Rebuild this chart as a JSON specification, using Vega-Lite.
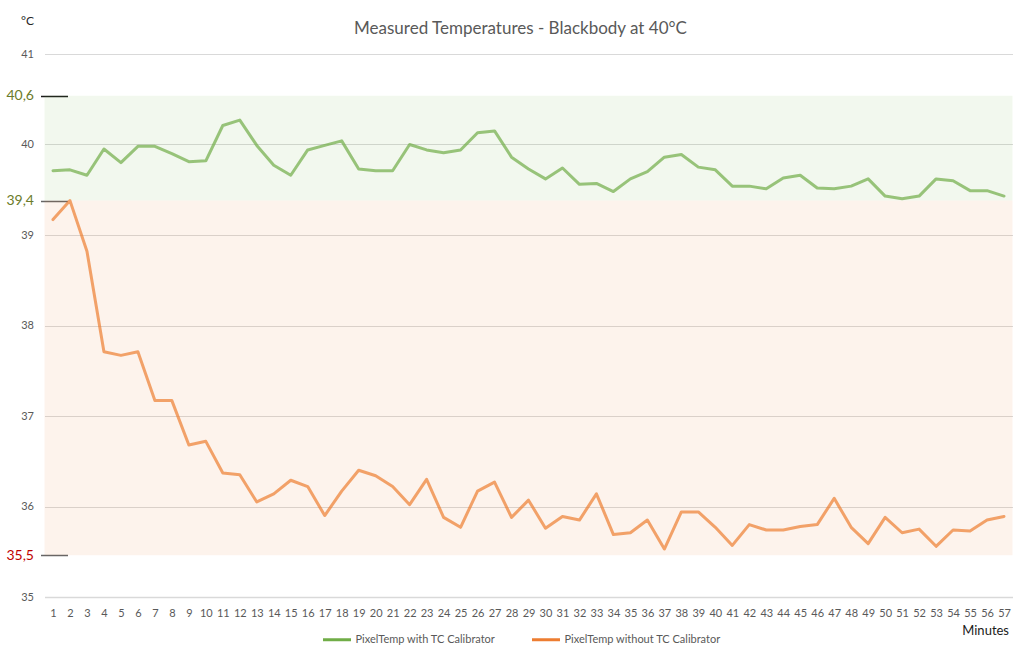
{
  "$schema": "https://vega.github.io/schema/vega-lite/v6.json",
  "width": 968,
  "height": 543,
  "autosize": {"type": "none"},
  "padding": {"left": 44.5, "top": 54, "right": 17.5, "bottom": 64},
  "background": "white",
  "title": {
    "text": "Measured Temperatures - Blackbody at 40°C",
    "font": "Lato",
    "fontSize": 17,
    "fontWeight": "normal",
    "color": "#595959",
    "anchor": "middle",
    "dx": -8,
    "dy": 28
  },
  "config": {
    "font": "Lato",
    "view": {"stroke": null}
  },
  "resolve": {"scale": {"color": "independent"}},
  "datasets": {
    "zones": [
      {"lo": 39.38, "hi": 40.54, "zone": "calibrated"},
      {"lo": 35.46, "hi": 39.38, "zone": "uncalibrated"}
    ],
    "temps": [
      {"minute": 1, "series": "PixelTemp with TC Calibrator", "temp": 39.71},
      {"minute": 2, "series": "PixelTemp with TC Calibrator", "temp": 39.72},
      {"minute": 3, "series": "PixelTemp with TC Calibrator", "temp": 39.66},
      {"minute": 4, "series": "PixelTemp with TC Calibrator", "temp": 39.95},
      {"minute": 5, "series": "PixelTemp with TC Calibrator", "temp": 39.8},
      {"minute": 6, "series": "PixelTemp with TC Calibrator", "temp": 39.98},
      {"minute": 7, "series": "PixelTemp with TC Calibrator", "temp": 39.98},
      {"minute": 8, "series": "PixelTemp with TC Calibrator", "temp": 39.9},
      {"minute": 9, "series": "PixelTemp with TC Calibrator", "temp": 39.81},
      {"minute": 10, "series": "PixelTemp with TC Calibrator", "temp": 39.82},
      {"minute": 11, "series": "PixelTemp with TC Calibrator", "temp": 40.21},
      {"minute": 12, "series": "PixelTemp with TC Calibrator", "temp": 40.27},
      {"minute": 13, "series": "PixelTemp with TC Calibrator", "temp": 39.99},
      {"minute": 14, "series": "PixelTemp with TC Calibrator", "temp": 39.77},
      {"minute": 15, "series": "PixelTemp with TC Calibrator", "temp": 39.66},
      {"minute": 16, "series": "PixelTemp with TC Calibrator", "temp": 39.94},
      {"minute": 17, "series": "PixelTemp with TC Calibrator", "temp": 39.99},
      {"minute": 18, "series": "PixelTemp with TC Calibrator", "temp": 40.04},
      {"minute": 19, "series": "PixelTemp with TC Calibrator", "temp": 39.73},
      {"minute": 20, "series": "PixelTemp with TC Calibrator", "temp": 39.71},
      {"minute": 21, "series": "PixelTemp with TC Calibrator", "temp": 39.71},
      {"minute": 22, "series": "PixelTemp with TC Calibrator", "temp": 40.0},
      {"minute": 23, "series": "PixelTemp with TC Calibrator", "temp": 39.94},
      {"minute": 24, "series": "PixelTemp with TC Calibrator", "temp": 39.91},
      {"minute": 25, "series": "PixelTemp with TC Calibrator", "temp": 39.94},
      {"minute": 26, "series": "PixelTemp with TC Calibrator", "temp": 40.13},
      {"minute": 27, "series": "PixelTemp with TC Calibrator", "temp": 40.15},
      {"minute": 28, "series": "PixelTemp with TC Calibrator", "temp": 39.86},
      {"minute": 29, "series": "PixelTemp with TC Calibrator", "temp": 39.73},
      {"minute": 30, "series": "PixelTemp with TC Calibrator", "temp": 39.62},
      {"minute": 31, "series": "PixelTemp with TC Calibrator", "temp": 39.74},
      {"minute": 32, "series": "PixelTemp with TC Calibrator", "temp": 39.56},
      {"minute": 33, "series": "PixelTemp with TC Calibrator", "temp": 39.57},
      {"minute": 34, "series": "PixelTemp with TC Calibrator", "temp": 39.48},
      {"minute": 35, "series": "PixelTemp with TC Calibrator", "temp": 39.62},
      {"minute": 36, "series": "PixelTemp with TC Calibrator", "temp": 39.7},
      {"minute": 37, "series": "PixelTemp with TC Calibrator", "temp": 39.86},
      {"minute": 38, "series": "PixelTemp with TC Calibrator", "temp": 39.89},
      {"minute": 39, "series": "PixelTemp with TC Calibrator", "temp": 39.75},
      {"minute": 40, "series": "PixelTemp with TC Calibrator", "temp": 39.72},
      {"minute": 41, "series": "PixelTemp with TC Calibrator", "temp": 39.54},
      {"minute": 42, "series": "PixelTemp with TC Calibrator", "temp": 39.54},
      {"minute": 43, "series": "PixelTemp with TC Calibrator", "temp": 39.51},
      {"minute": 44, "series": "PixelTemp with TC Calibrator", "temp": 39.63},
      {"minute": 45, "series": "PixelTemp with TC Calibrator", "temp": 39.66},
      {"minute": 46, "series": "PixelTemp with TC Calibrator", "temp": 39.52},
      {"minute": 47, "series": "PixelTemp with TC Calibrator", "temp": 39.51},
      {"minute": 48, "series": "PixelTemp with TC Calibrator", "temp": 39.54},
      {"minute": 49, "series": "PixelTemp with TC Calibrator", "temp": 39.62},
      {"minute": 50, "series": "PixelTemp with TC Calibrator", "temp": 39.43},
      {"minute": 51, "series": "PixelTemp with TC Calibrator", "temp": 39.4},
      {"minute": 52, "series": "PixelTemp with TC Calibrator", "temp": 39.43},
      {"minute": 53, "series": "PixelTemp with TC Calibrator", "temp": 39.62},
      {"minute": 54, "series": "PixelTemp with TC Calibrator", "temp": 39.6},
      {"minute": 55, "series": "PixelTemp with TC Calibrator", "temp": 39.49},
      {"minute": 56, "series": "PixelTemp with TC Calibrator", "temp": 39.49},
      {"minute": 57, "series": "PixelTemp with TC Calibrator", "temp": 39.43},
      {"minute": 1, "series": "PixelTemp without TC Calibrator", "temp": 39.17},
      {"minute": 2, "series": "PixelTemp without TC Calibrator", "temp": 39.38},
      {"minute": 3, "series": "PixelTemp without TC Calibrator", "temp": 38.82},
      {"minute": 4, "series": "PixelTemp without TC Calibrator", "temp": 37.71},
      {"minute": 5, "series": "PixelTemp without TC Calibrator", "temp": 37.67},
      {"minute": 6, "series": "PixelTemp without TC Calibrator", "temp": 37.71},
      {"minute": 7, "series": "PixelTemp without TC Calibrator", "temp": 37.17},
      {"minute": 8, "series": "PixelTemp without TC Calibrator", "temp": 37.17},
      {"minute": 9, "series": "PixelTemp without TC Calibrator", "temp": 36.68},
      {"minute": 10, "series": "PixelTemp without TC Calibrator", "temp": 36.72},
      {"minute": 11, "series": "PixelTemp without TC Calibrator", "temp": 36.37},
      {"minute": 12, "series": "PixelTemp without TC Calibrator", "temp": 36.35},
      {"minute": 13, "series": "PixelTemp without TC Calibrator", "temp": 36.05},
      {"minute": 14, "series": "PixelTemp without TC Calibrator", "temp": 36.14},
      {"minute": 15, "series": "PixelTemp without TC Calibrator", "temp": 36.29},
      {"minute": 16, "series": "PixelTemp without TC Calibrator", "temp": 36.22},
      {"minute": 17, "series": "PixelTemp without TC Calibrator", "temp": 35.9},
      {"minute": 18, "series": "PixelTemp without TC Calibrator", "temp": 36.17},
      {"minute": 19, "series": "PixelTemp without TC Calibrator", "temp": 36.4},
      {"minute": 20, "series": "PixelTemp without TC Calibrator", "temp": 36.34},
      {"minute": 21, "series": "PixelTemp without TC Calibrator", "temp": 36.22},
      {"minute": 22, "series": "PixelTemp without TC Calibrator", "temp": 36.02},
      {"minute": 23, "series": "PixelTemp without TC Calibrator", "temp": 36.3},
      {"minute": 24, "series": "PixelTemp without TC Calibrator", "temp": 35.88},
      {"minute": 25, "series": "PixelTemp without TC Calibrator", "temp": 35.77},
      {"minute": 26, "series": "PixelTemp without TC Calibrator", "temp": 36.17},
      {"minute": 27, "series": "PixelTemp without TC Calibrator", "temp": 36.27},
      {"minute": 28, "series": "PixelTemp without TC Calibrator", "temp": 35.88},
      {"minute": 29, "series": "PixelTemp without TC Calibrator", "temp": 36.07},
      {"minute": 30, "series": "PixelTemp without TC Calibrator", "temp": 35.76},
      {"minute": 31, "series": "PixelTemp without TC Calibrator", "temp": 35.89},
      {"minute": 32, "series": "PixelTemp without TC Calibrator", "temp": 35.85},
      {"minute": 33, "series": "PixelTemp without TC Calibrator", "temp": 36.14},
      {"minute": 34, "series": "PixelTemp without TC Calibrator", "temp": 35.69},
      {"minute": 35, "series": "PixelTemp without TC Calibrator", "temp": 35.71},
      {"minute": 36, "series": "PixelTemp without TC Calibrator", "temp": 35.85},
      {"minute": 37, "series": "PixelTemp without TC Calibrator", "temp": 35.53},
      {"minute": 38, "series": "PixelTemp without TC Calibrator", "temp": 35.94},
      {"minute": 39, "series": "PixelTemp without TC Calibrator", "temp": 35.94},
      {"minute": 40, "series": "PixelTemp without TC Calibrator", "temp": 35.77},
      {"minute": 41, "series": "PixelTemp without TC Calibrator", "temp": 35.57},
      {"minute": 42, "series": "PixelTemp without TC Calibrator", "temp": 35.8},
      {"minute": 43, "series": "PixelTemp without TC Calibrator", "temp": 35.74},
      {"minute": 44, "series": "PixelTemp without TC Calibrator", "temp": 35.74},
      {"minute": 45, "series": "PixelTemp without TC Calibrator", "temp": 35.78},
      {"minute": 46, "series": "PixelTemp without TC Calibrator", "temp": 35.8},
      {"minute": 47, "series": "PixelTemp without TC Calibrator", "temp": 36.09},
      {"minute": 48, "series": "PixelTemp without TC Calibrator", "temp": 35.77},
      {"minute": 49, "series": "PixelTemp without TC Calibrator", "temp": 35.59},
      {"minute": 50, "series": "PixelTemp without TC Calibrator", "temp": 35.88},
      {"minute": 51, "series": "PixelTemp without TC Calibrator", "temp": 35.71},
      {"minute": 52, "series": "PixelTemp without TC Calibrator", "temp": 35.75},
      {"minute": 53, "series": "PixelTemp without TC Calibrator", "temp": 35.56},
      {"minute": 54, "series": "PixelTemp without TC Calibrator", "temp": 35.74},
      {"minute": 55, "series": "PixelTemp without TC Calibrator", "temp": 35.73},
      {"minute": 56, "series": "PixelTemp without TC Calibrator", "temp": 35.85},
      {"minute": 57, "series": "PixelTemp without TC Calibrator", "temp": 35.89}
    ]
  },
  "layer": [
    {
      "data": {"name": "zones"},
      "mark": {"type": "rect", "opacity": 0.09},
      "encoding": {
        "y": {
          "field": "hi",
          "type": "quantitative",
          "scale": {"domain": [35, 41], "nice": false, "zero": false},
          "axis": {
            "title": "°C",
            "titleAngle": 0,
            "titleAlign": "right",
            "titleBaseline": "middle",
            "titleX": -7,
            "titleY": -34,
            "titleFont": "Lato",
            "titleFontSize": 12,
            "titleFontWeight": "normal",
            "titleColor": "#262626",
            "values": [35, 35.46, 36, 37, 38, 39, 39.38, 40, 40.54, 41],
            "format": "~g",
            "labelExpr": "datum.value == 40.54 ? '40,6' : datum.value == 39.38 ? '39,4' : datum.value == 35.46 ? '35,5' : datum.label",
            "labelOverlap": false,
            "labelFontSize": {
              "condition": {"test": "datum.value % 1 != 0", "value": 14},
              "value": 11
            },
            "labelColor": {
              "condition": [
                {"test": "datum.value == 35.46", "value": "#c00000"},
                {"test": "datum.value % 1 != 0", "value": "#6b7b2a"}
              ],
              "value": "#595959"
            },
            "labelPadding": 34,
            "domain": false,
            "offset": 4,
            "tickSize": -27,
            "tickWidth": 1.5,
            "tickColor": {
              "condition": [
                {"test": "datum.value == 40.54", "value": "#1a1a1a"},
                {"test": "datum.value % 1 != 0", "value": "#666666"}
              ],
              "value": "transparent"
            },
            "gridColor": {
              "condition": {"test": "datum.value % 1 != 0", "value": "transparent"},
              "value": "#d9d9d9"
            }
          }
        },
        "y2": {"field": "lo"},
        "color": {
          "field": "zone",
          "type": "nominal",
          "scale": {"domain": ["calibrated", "uncalibrated"], "range": ["#70ad47", "#ed7d31"]},
          "legend": null
        }
      }
    },
    {
      "data": {"name": "temps"},
      "mark": {"type": "line", "strokeWidth": 3, "opacity": 0.7, "strokeJoin": "round", "strokeCap": "round"},
      "encoding": {
        "x": {
          "field": "minute",
          "type": "quantitative",
          "scale": {"domain": [0.5, 57.5], "nice": false, "zero": false},
          "axis": {
            "title": "Minutes",
            "titleAnchor": "end",
            "titleAlign": "right",
            "titleFont": "Lato",
            "titleFontSize": 13,
            "titleFontWeight": "normal",
            "titleColor": "#1a1a1a",
            "titlePadding": 6,
            "titleX": 964,
            "values": [1, 2, 3, 4, 5, 6, 7, 8, 9, 10, 11, 12, 13, 14, 15, 16, 17, 18, 19, 20, 21, 22, 23, 24, 25, 26, 27, 28, 29, 30, 31, 32, 33, 34, 35, 36, 37, 38, 39, 40, 41, 42, 43, 44, 45, 46, 47, 48, 49, 50, 51, 52, 53, 54, 55, 56, 57],
            "format": "d",
            "labelOverlap": false,
            "labelFontSize": 11,
            "labelColor": "#595959",
            "labelPadding": 10,
            "ticks": false,
            "grid": false,
            "domainColor": "#d9d9d9",
            "domainWidth": 1.5
          }
        },
        "y": {"field": "temp", "type": "quantitative"},
        "color": {
          "field": "series",
          "type": "nominal",
          "scale": {
            "domain": ["PixelTemp with TC Calibrator", "PixelTemp without TC Calibrator"],
            "range": ["#70ad47", "#ed7d31"]
          },
          "legend": {
            "title": null,
            "orient": "none",
            "direction": "horizontal",
            "legendX": 277,
            "legendY": 570,
            "symbolType": "stroke",
            "symbolSize": 784,
            "symbolStrokeWidth": 3,
            "symbolOpacity": 1,
            "labelFontSize": 11,
            "labelColor": "#595959",
            "labelOffset": 3,
            "columnPadding": 30
          }
        }
      }
    }
  ]
}
